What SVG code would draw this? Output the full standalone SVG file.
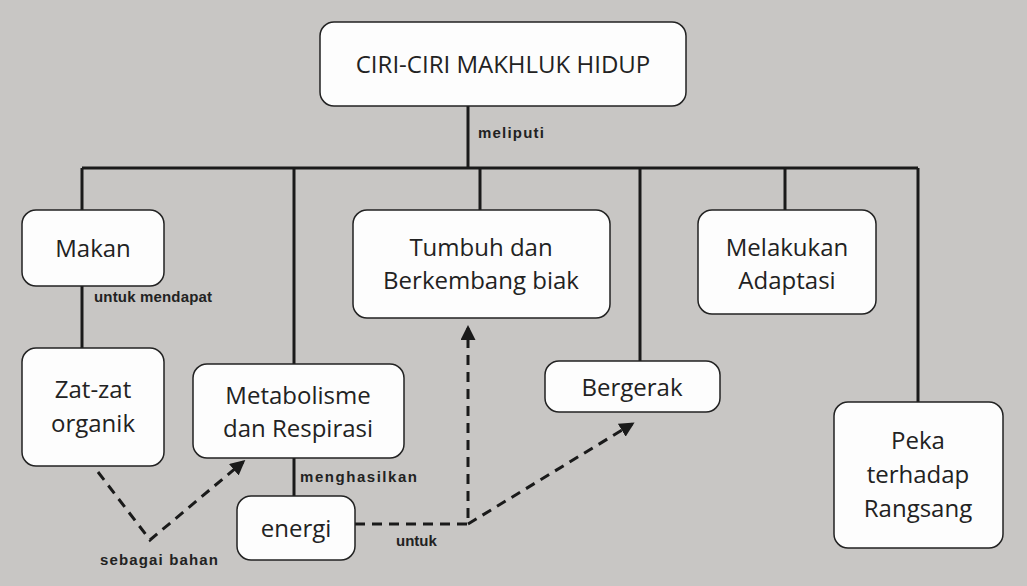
<svg xmlns="http://www.w3.org/2000/svg" width="1027" height="586" viewBox="0 0 1027 586">
<style>
.b{fill:#fdfdfd;stroke:#222;stroke-width:1.5}
.t{font-family:"Open Sans","Liberation Sans",sans-serif;font-size:24px;fill:#222;text-anchor:middle}
.l{font-family:"Liberation Sans",sans-serif;font-weight:bold;font-size:15px;fill:#222}
.s{stroke:#1a1a1a;stroke-width:3;fill:none}
.d{stroke:#1a1a1a;stroke-width:3;fill:none;stroke-dasharray:10,7}
</style>
<defs><marker id="a" viewBox="0 0 10 10" refX="8" refY="5" markerWidth="5" markerHeight="5" orient="auto"><path d="M0,0L10,5L0,10z" fill="#1a1a1a"/></marker></defs>
<rect width="1027" height="586" fill="#c8c6c4"/>
<g id="connectors">
<path class="s" d="M468,106V168M82,168H918M82,168V210M294,168V364M480,168V210M640,168V361M785,168V210M918,168V402M82,286V348M294,458V496"/>
<path class="d" d="M98,472L150,540L243,462" marker-end="url(#a)"/>
<path class="d" d="M355,524H468V328" marker-end="url(#a)"/>
<path class="d" d="M468,524L632,424" marker-end="url(#a)"/>
<text class="l" x="478" y="138" textLength="66">meliputi</text>
<text class="l" x="94" y="302" textLength="118">untuk mendapat</text>
<text class="l" x="300" y="482" textLength="117">menghasilkan</text>
<text class="l" x="100" y="565" textLength="118">sebagai bahan</text>
<text class="l" x="396" y="546">untuk</text>
</g>
<g id="title"><rect class="b" x="320" y="22" width="366" height="84" rx="14"/><text class="t" x="503" y="73">CIRI-CIRI MAKHLUK HIDUP</text></g>
<g id="makan"><rect class="b" x="22" y="210" width="142" height="76" rx="14"/><text class="t" x="93" y="257">Makan</text></g>
<g id="zat"><rect class="b" x="22" y="348" width="142" height="118" rx="14"/><text class="t" x="93" y="398">Zat-zat</text><text class="t" x="93" y="432">organik</text></g>
<g id="metabolisme"><rect class="b" x="193" y="364" width="211" height="94" rx="14"/><text class="t" x="298" y="404">Metabolisme</text><text class="t" x="298" y="437">dan Respirasi</text></g>
<g id="energi"><rect class="b" x="237" y="496" width="118" height="64" rx="14"/><text class="t" x="296" y="537">energi</text></g>
<g id="tumbuh"><rect class="b" x="353" y="210" width="257" height="108" rx="14"/><text class="t" x="481" y="256">Tumbuh dan</text><text class="t" x="481" y="289">Berkembang biak</text></g>
<g id="bergerak"><rect class="b" x="545" y="361" width="175" height="51" rx="14"/><text class="t" x="632" y="396">Bergerak</text></g>
<g id="adaptasi"><rect class="b" x="698" y="210" width="178" height="104" rx="14"/><text class="t" x="787" y="256">Melakukan</text><text class="t" x="787" y="289">Adaptasi</text></g>
<g id="peka"><rect class="b" x="834" y="402" width="169" height="146" rx="14"/><text class="t" x="918" y="449">Peka</text><text class="t" x="918" y="483">terhadap</text><text class="t" x="918" y="517">Rangsang</text></g>
</svg>
